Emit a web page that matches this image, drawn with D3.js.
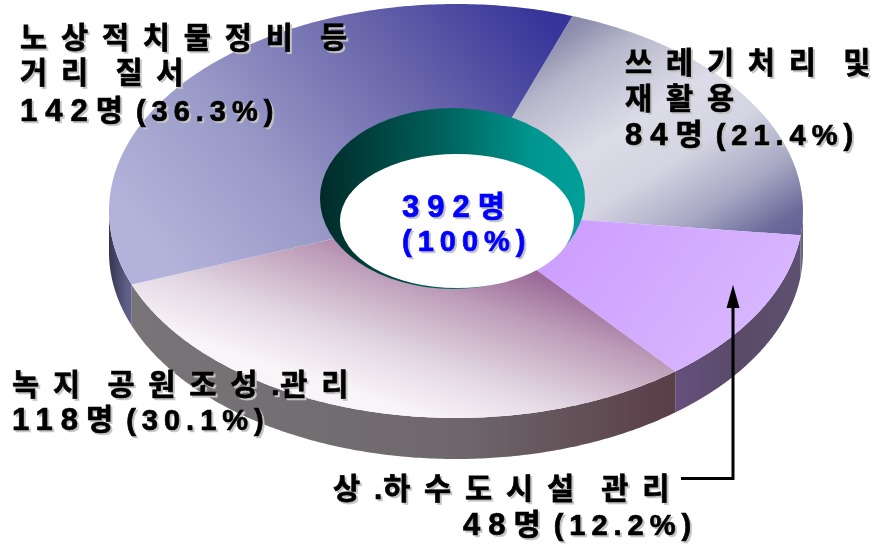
<!DOCTYPE html>
<html><head><meta charset="utf-8">
<script src="https://cdn.jsdelivr.net/npm/d3@7"></script>
<style>html,body{margin:0;background:#fff}svg{display:block}
text{font-family:"Liberation Sans","Noto Sans CJK KR",sans-serif;font-weight:700}</style>
</head><body><script>
const categories = ["쓰레기처리 및 재활용","상.하수도시설 관리","녹지 공원조성.관리","노상적치물정비 등 거리 질서"];
const counts = [84,48,118,142];
const totalLabel = ["392명","(100%)"];
const labelLines = [
  ["쓰레기처리 및","재활용","84명 (21.4%)"],
  ["상.하수도시설 관리","48명 (12.2%)"],
  ["녹지 공원조성.관리","118명 (30.1%)"],
  ["노상적치물정비 등","거리 질서","142명 (36.3%)"]
];

const W=875,H=544,cx=456,cy=211,rx=347,ry=207,depth=41,rad=Math.PI/180;
const svg=d3.select("body").append("svg").attr("width",W).attr("height",H);
const defs=svg.append("defs");
function grad(id,x1,y1,x2,y2,stops){
  const g=defs.append("linearGradient").attr("id",id).attr("gradientUnits","userSpaceOnUse")
    .attr("x1",x1).attr("y1",y1).attr("x2",x2).attr("y2",y2);
  stops.forEach(s=>g.append("stop").attr("offset",s[0]).attr("stop-color",s[1]));
}
grad("f0",600,10,760,260,[[0,"#8c8cac"],[.14,"#b8b8cc"],[.38,"#dcdce8"],[.56,"#d4d4e2"],[.76,"#a8a8c4"],[.93,"#6a6a9a"],[1,"#606094"]]);
grad("f1",540,230,740,380,[[0,"#cc9cff"],[1,"#d9b8ff"]]);
grad("f2",535,275,482,435,[[0,"#9a6a98"],[.27,"#bd9cb8"],[.68,"#e2d6e2"],[1,"#f8f4f8"]]);
grad("f3",545,20,200,300,[[0,"#37359a"],[.35,"#6c69ac"],[.7,"#9a9ac8"],[1,"#b2b2da"]]);
grad("s0",795,0,805,0,[[0,"#808088"],[1,"#5c5c78"]]);
grad("s1",673,0,802,0,[[0,"#66507e"],[.5,"#5a4a68"],[1,"#5e5070"]]);
grad("s2",130,0,673,0,[[0,"#787478"],[.6,"#6e686c"],[1,"#5a3e48"]]);
grad("s3",108,0,128,0,[[0,"#333350"],[1,"#60608a"]]);
grad("ring",320,0,586,0,[[0,"#002a28"],[.45,"#00605a"],[.8,"#009690"],[1,"#00a099"]]);

const pie=d3.pie().sort(null).startAngle(19.6*rad).endAngle((360+19.6)*rad)(counts);
const pt=(a,dy=0)=>[cx+rx*Math.sin(a),cy-ry*Math.cos(a)+dy];
const line=d3.line();
const samples=(a,b)=>d3.range(0,181).map(i=>a+(b-a)*i/180);

// side wall
pie.forEach((d,i)=>{
  const a=Math.max(d.startAngle,90*rad), b=Math.min(d.endAngle,270*rad);
  if(b<=a) return;
  const s=samples(a,b);
  svg.append("path").attr("d",line(s.map(t=>pt(t)).concat(s.slice().reverse().map(t=>pt(t,depth))))+"Z")
    .attr("fill",`url(#s${i})`);
});
// top faces
pie.forEach((d,i)=>{
  svg.append("path").attr("d",line([[cx,cy]].concat(samples(d.startAngle,d.endAngle).map(t=>pt(t))))+"Z")
    .attr("fill",`url(#f${i})`);
});
// centre hole
svg.append("ellipse").attr("cx",452.5).attr("cy",198.5).attr("rx",132.5).attr("ry",90.5).attr("fill","url(#ring)");
svg.append("ellipse").attr("cx",457).attr("cy",221).attr("rx",117).attr("ry",67).attr("fill","#fff");

// arrow
const axis=d3.path();
axis.moveTo(681,478.5);axis.lineTo(733,478.5);axis.lineTo(733,300);
svg.append("path").attr("d",axis.toString()).attr("fill","none").attr("stroke","#000").attr("stroke-width",3);
svg.append("path").attr("d",line([[733,285],[739.5,308],[726.5,308]])+"Z").attr("fill","#000");

// labels
function drawLine(g,str,x,y,color){
  const t=g.append("text").attr("x",x).attr("y",y).attr("fill",color).attr("font-size",29.5)
    .attr("stroke",color).attr("stroke-width",0.7)
    .style("filter","drop-shadow(2px 2px 0.6px #c4c4c4)");
  const parts=str.match(/\([^)]*\)|[0-9]+|\.|[^0-9(.]+/g);
  parts.forEach((p,i)=>{
    const next=parts[i+1]||"";
    const last=i===parts.length-1;
    const isHangul=!/^[\(0-9.]/.test(p);
    const body=next[0]==="("?p.trimEnd():(last&&p.length>1?p.slice(0,-1):p);
    const ts=t.append("tspan").text(body);
    if(p[0]==="(") ts.attr("font-size",29).attr("letter-spacing",6);
    else if(/^[0-9]/.test(p)) ts.attr("font-size",31).attr("letter-spacing",8);
    else if(p===".") ts.attr("letter-spacing",1);
    else ts.attr("letter-spacing",13.8).attr("word-spacing",-8.5);
    if(next[0]==="(") ts.attr("letter-spacing",13);
    // the closing glyph carries no trailing spacing
    if(last&&p.length>1){
      const end=t.append("tspan").text(p.slice(-1));
      if(p[0]==="(") end.attr("font-size",29);
      else if(!isHangul) end.attr("font-size",31);
    }
  });
}
const layout=[
  {x:625,y:[73,109,145]},
  {x:[333,463],y:[499,535]},
  {x:12,y:[395,430]},
  {x:20,y:[48,83,121]}
];
labelLines.forEach((lines,i)=>{
  const g=svg.append("g").attr("class","label").attr("data-cat",categories[i]);
  lines.forEach((l,j)=>{
    const x=Array.isArray(layout[i].x)?layout[i].x[j]:layout[i].x;
    drawLine(g,l,x,layout[i].y[j],"#000");
  });
});
const gc=svg.append("g");
drawLine(gc,totalLabel[0],402,217,"#0000ff");
drawLine(gc,totalLabel[1],402,251,"#0000ff");
</script></body></html>
